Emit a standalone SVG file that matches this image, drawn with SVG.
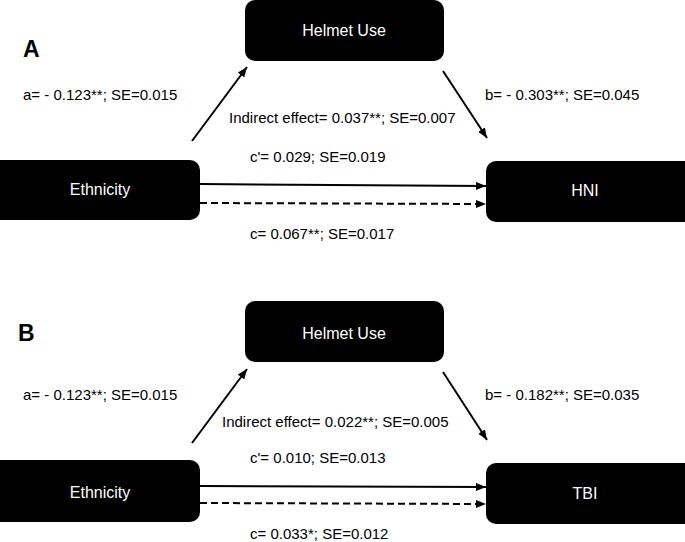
<svg xmlns="http://www.w3.org/2000/svg" width="685" height="542" viewBox="0 0 685 542">
<style>
.box{fill:#000;}
.nt{font-family:"Liberation Sans",Arial,sans-serif;font-size:16px;fill:#fff;text-anchor:middle;}
.lb{font-family:"Liberation Sans",Arial,sans-serif;font-size:15px;fill:#000;}
.pl{font-family:"Liberation Sans",Arial,sans-serif;font-size:23px;font-weight:bold;fill:#000;}
.ln{stroke:#000;stroke-width:2;fill:none;}
.ds{stroke-dasharray:7,4;}
</style>
<defs>
<marker id="ah" viewBox="0 0 10 8" refX="10" refY="4" markerWidth="10" markerHeight="8" markerUnits="userSpaceOnUse" orient="auto">
<path d="M0,0 L10,4 L0,8 Z" fill="#000"/>
</marker>
</defs>
<rect width="685" height="542" fill="#fff"/>
<text class="pl" x="23" y="57">A</text>
<text class="pl" x="18" y="341">B</text>
<g id="helmetA"><rect class="box" x="245" y="0" width="199" height="61" rx="10"/><text class="nt" x="344" y="36">Helmet Use</text></g>
<g id="ethnicityA"><rect class="box" x="-10" y="160" width="210" height="60" rx="10"/><text class="nt" x="100" y="195">Ethnicity</text></g>
<g id="hni"><rect class="box" x="486" y="161" width="210" height="61" rx="10"/><text class="nt" x="585" y="196">HNI</text></g>
<g id="helmetB"><rect class="box" x="245" y="301" width="199" height="61" rx="10"/><text class="nt" x="344" y="339">Helmet Use</text></g>
<g id="ethnicityB"><rect class="box" x="-10" y="460" width="210" height="62" rx="10"/><text class="nt" x="100" y="498">Ethnicity</text></g>
<g id="tbi"><rect class="box" x="486" y="463" width="210" height="61" rx="10"/><text class="nt" x="585" y="499">TBI</text></g>
<g id="connectors">
<line class="ln" x1="192" y1="141" x2="247" y2="67" marker-end="url(#ah)"/>
<line class="ln" x1="443" y1="71" x2="487" y2="138" marker-end="url(#ah)"/>
<line class="ln" x1="200" y1="184" x2="486" y2="186" marker-end="url(#ah)"/>
<line class="ln ds" x1="200" y1="203" x2="486" y2="204" marker-end="url(#ah)"/>
<line class="ln" x1="192" y1="443" x2="247" y2="369" marker-end="url(#ah)"/>
<line class="ln" x1="443" y1="372" x2="487" y2="440" marker-end="url(#ah)"/>
<line class="ln" x1="200" y1="486" x2="486" y2="487" marker-end="url(#ah)"/>
<line class="ln ds" x1="200" y1="503" x2="486" y2="504" marker-end="url(#ah)"/>
</g>
<g id="labels">
<text class="lb" x="23" y="100">a= - 0.123**; SE=0.015</text>
<text class="lb" x="485" y="100">b= - 0.303**; SE=0.045</text>
<text class="lb" x="229" y="123">Indirect effect= 0.037**; SE=0.007</text>
<text class="lb" x="250" y="162">c'= 0.029; SE=0.019</text>
<text class="lb" x="250" y="239">c= 0.067**; SE=0.017</text>
<text class="lb" x="23" y="400">a= - 0.123**; SE=0.015</text>
<text class="lb" x="485" y="400">b= - 0.182**; SE=0.035</text>
<text class="lb" x="222" y="427">Indirect effect= 0.022**; SE=0.005</text>
<text class="lb" x="250" y="463">c'= 0.010; SE=0.013</text>
<text class="lb" x="250" y="539">c= 0.033*; SE=0.012</text>
</g>
</svg>
